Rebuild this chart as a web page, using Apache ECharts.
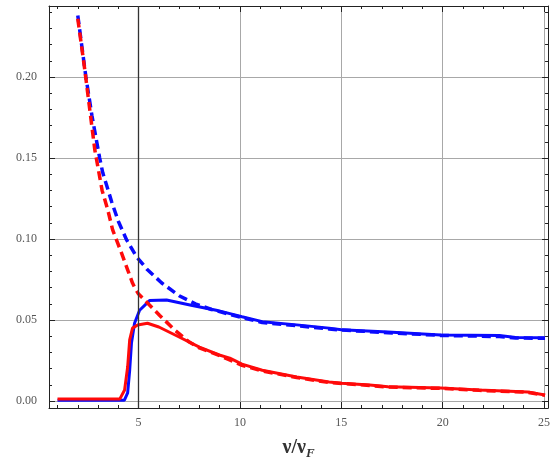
<!DOCTYPE html>
<html>
<head>
<meta charset="utf-8">
<script src="https://cdn.jsdelivr.net/npm/echarts@6/dist/echarts.min.js"></script>
<style>
html,body{margin:0;padding:0;background:#fff}
#chart{width:553px;height:468px}
</style>
</head>
<body>
<div id="chart"></div>
<script>
// values, [v/vF, y]
let blueSolid=[[1.0,0.0005],[4.3,0.0005],[4.46,0.005],[4.56,0.019],[4.65,0.036],[4.8,0.048],[5.05,0.056],[5.54,0.062],[6.38,0.0623],[7.65,0.059],[8.83,0.056],[9.8,0.053],[10.1,0.052],[11.1,0.049],[12.8,0.047],[14.4,0.045],[15.0,0.044],[17.3,0.0426],[19.9,0.0407],[22.8,0.0404],[23.6,0.0392],[25.05,0.039]]
let blueDashed=[[2.0,0.238],[2.2,0.219],[2.4,0.200],[2.7,0.176],[3.08,0.150],[3.23,0.141],[3.67,0.123],[4.0,0.111],[4.41,0.0994],[4.9,0.089],[5.44,0.081],[6.13,0.073],[7.0,0.065],[7.8,0.060],[8.6,0.0565],[9.5,0.0535],[10.1,0.0515],[11.1,0.0485],[12.8,0.0465],[14.4,0.0445],[15.0,0.0438],[17.3,0.0422],[19.9,0.0405],[22.8,0.0398],[23.6,0.0389],[25.05,0.0387]]
let redSolid=[[1.0,0.0012],[4.07,0.0012],[4.31,0.0068],[4.46,0.021],[4.56,0.0377],[4.7,0.045],[4.95,0.0469],[5.44,0.048],[6.0,0.0457],[7.0,0.0395],[8.0,0.0333],[8.98,0.0284],[9.5,0.0265],[10.1,0.0228],[11.1,0.019],[12.8,0.0148],[14.4,0.0117],[15.0,0.011],[16.4,0.0099],[17.3,0.0088],[19.9,0.008],[21.8,0.0068],[24.2,0.0056],[25.05,0.0037]]
let redDashed=[[2.0,0.236],[2.35,0.204],[2.59,0.180],[2.84,0.155],[3.2,0.130],[3.48,0.118],[3.72,0.1056],[4.16,0.0913],[4.46,0.081],[4.7,0.0728],[4.85,0.069],[5.0,0.066],[5.44,0.0605],[6.03,0.053],[6.77,0.044],[7.5,0.0364],[8.0,0.0328],[9.0,0.0280],[10.1,0.0220],[11.1,0.0186],[12.8,0.0145],[14.4,0.0114],[16.4,0.0096],[17.3,0.0086],[19.9,0.0078],[21.8,0.0066],[24.2,0.0054],[25.05,0.0035]]

let xMajor=[5,10,15,20,25]
let xMinor=[1,2,3,4,6,7,8,9,11,12,13,14,16,17,18,19,21,22,23,24]
let yMajor=[0,0.05,0.10,0.15,0.20]
let yMinor=[0.01,0.02,0.03,0.04,0.06,0.07,0.08,0.09,0.11,0.12,0.13,0.14,0.16,0.17,0.18,0.19,0.21,0.22,0.23,0.24]

let xMin=0.58,xMax=25.2,yMin=-0.0043,yMax=0.2438
let serif='"Liberation Serif","DejaVu Serif",serif'

function frameAxis(pos,vals,len,showLine){
    return {
        type:'value',position:pos,min:pos=='left'||pos=='right'?yMin:xMin,
        max:pos=='left'||pos=='right'?yMax:xMax,
        axisLine:{show:showLine,onZero:false,lineStyle:{color:'#222',width:1}},
        axisTick:{show:true,inside:true,length:len,customValues:vals,lineStyle:{color:'#222',width:1}},
        axisLabel:{show:false},
        splitLine:{show:false}
    }
}

var myChart=echarts.init(document.getElementById('chart'));
var option={
    animation:false,
    grid:{left:49,right:4,top:6,bottom:60},
    xAxis:[{
        type:'value',position:'bottom',min:xMin,max:xMax,
        axisLine:{show:true,onZero:false,lineStyle:{color:'#222',width:1}},
        axisTick:{inside:true,length:6,customValues:xMajor,lineStyle:{color:'#222'}},
        axisLabel:{customValues:xMajor,margin:9,color:'#555',fontSize:12,fontFamily:serif},
        splitLine:{show:true,lineStyle:{color:'#a8a8a8',width:1}},
        name:'{a|ν/ν}{b|F}',nameLocation:'middle',nameGap:30,
        nameTextStyle:{rich:{
            a:{fontSize:20,lineHeight:20,fontWeight:'bold',fontFamily:serif,color:'#333',verticalAlign:'top'},
            b:{fontSize:13,lineHeight:13,fontStyle:'italic',fontWeight:'bold',fontFamily:serif,color:'#333',verticalAlign:'top',padding:[9,0,0,0]}
        }}
    },
    frameAxis('bottom',xMinor,3,false),
    frameAxis('top',xMajor,6,true),
    frameAxis('top',xMinor,3,false)],
    yAxis:[{
        type:'value',position:'left',min:yMin,max:yMax,
        axisLine:{show:true,onZero:false,lineStyle:{color:'#222',width:1}},
        axisTick:{inside:true,length:6,customValues:yMajor,lineStyle:{color:'#222'}},
        axisLabel:{customValues:yMajor,margin:12,color:'#555',fontSize:12,fontFamily:serif,
            formatter:function(v){return v.toFixed(2)}},
        splitLine:{show:true,lineStyle:{color:'#a8a8a8',width:1}}
    },
    frameAxis('left',yMinor,3,false),
    frameAxis('right',yMajor,6,true),
    frameAxis('right',yMinor,3,false)],
    series:[{
        name:'blue solid',type:'line',data:blueSolid,showSymbol:false,
        lineStyle:{color:'#0a0aff',width:3},
        markLine:{silent:true,symbol:'none',label:{show:false},
            lineStyle:{color:'#333',width:1.3,type:'solid'},data:[{xAxis:5}]}
    },{
        name:'blue dashed',type:'line',data:blueDashed,showSymbol:false,
        lineStyle:{color:'#0a0aff',width:3.5,type:[9,5]}
    },{
        name:'red solid',type:'line',data:redSolid,showSymbol:false,
        lineStyle:{color:'#ff0a0a',width:3}
    },{
        name:'red dashed',type:'line',data:redDashed,showSymbol:false,
        lineStyle:{color:'#ff0a0a',width:3.5,type:[9,5]}
    }]
};
myChart.setOption(option);
</script>
</body>
</html>
